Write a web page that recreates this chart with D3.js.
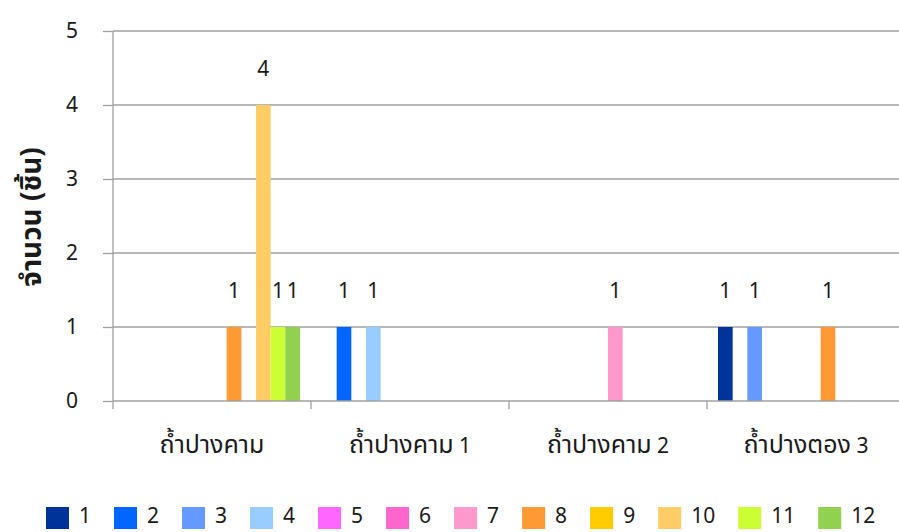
<!DOCTYPE html>
<html><head><meta charset="utf-8">
<script src="https://cdn.jsdelivr.net/npm/d3@7"></script>
<style>
html,body{margin:0;padding:0;background:#fff;}
svg text{font-family:Tahoma,"Noto Sans Thai","Noto Sans","Noto Sans CJK SC",sans-serif;fill:#1a1a1a;}
</style></head>
<body>
<svg id="c" width="899" height="532"></svg>
<script>
const categories = ["ถ้ำปางคาม", "ถ้ำปางคาม 1", "ถ้ำปางคาม 2", "ถ้ำปางตอง 3"];
const seriesNames = ["1","2","3","4","5","6","7","8","9","10","11","12"];
const seriesColors = ["#003399","#0066FF","#6699FF","#99CCFF","#FF66FF","#FF66CC","#FF99CC","#FF9933","#FFCC00","#FFCC66","#CCFF33","#92D050"];
const s1  = [0,0,0,1];
const s2  = [0,1,0,0];
const s3  = [0,0,0,1];
const s4  = [0,1,0,0];
const s5  = [0,0,0,0];
const s6  = [0,0,0,0];
const s7  = [0,0,1,0];
const s8  = [1,0,0,1];
const s9  = [0,0,0,0];
const s10 = [4,0,0,0];
const s11 = [1,0,0,0];
const s12 = [1,0,0,0];
const seriesValues = [s1,s2,s3,s4,s5,s6,s7,s8,s9,s10,s11,s12];
const yTicks = [0,1,2,3,4,5];
const yTitle = "จำนวน (ชิ้น)";

(function(){
const svg = d3.select("#c");
const pLeft = 113, pRight = 905, pTop = 31, pBottom = 401;
const numSize = 21, thaiSize = 25;
const numFont = "'Noto Sans',sans-serif";

const x = d3.scaleBand().domain(categories).range([pLeft, pRight]).paddingInner(0).paddingOuter(0);
const y = d3.scaleLinear().domain([0,5]).range([pBottom, pTop]);

// gridlines
svg.append("g").selectAll("line").data(yTicks.filter(d=>d>0)).join("line")
  .attr("x1", pLeft).attr("x2", pRight)
  .attr("y1", d=>y(d)).attr("y2", d=>y(d))
  .attr("stroke", "#a0a0a0").attr("stroke-width", 1.3);

// bars
const inner = 11;
const xs = d3.scaleBand().domain(seriesNames).range([inner, x.bandwidth()-inner]);
const bars = [];
seriesValues.forEach((vals, si) => {
  vals.forEach((v, ci) => {
    if (v > 0) bars.push({si, ci, v});
  });
});
svg.append("g").selectAll("rect").data(bars).join("rect")
  .attr("x", d => x(categories[d.ci]) + xs(seriesNames[d.si]))
  .attr("width", xs.bandwidth())
  .attr("y", d => y(d.v))
  .attr("height", d => y(0) - y(d.v))
  .attr("fill", d => seriesColors[d.si]);

svg.append("g").selectAll("text").data(bars).join("text")
  .attr("x", d => x(categories[d.ci]) + xs(seriesNames[d.si]) + xs.bandwidth()/2)
  .attr("y", d => y(d.v) - 29)
  .attr("text-anchor","middle")
  .attr("font-size", numSize)
  .style("font-family", numFont)
  .text(d => d.v);

// y axis
const yAxis = d3.axisLeft(y).tickValues(yTicks).tickSize(10).tickPadding(25).tickFormat(d3.format("d"));
const gy = svg.append("g").attr("transform", `translate(${pLeft},0)`).call(yAxis);
gy.select(".domain").remove();
gy.selectAll(".tick line").attr("stroke","#a0a0a0").attr("stroke-width",1.3);
gy.selectAll(".tick text").attr("font-size",numSize).style("font-family",numFont).attr("fill","#1a1a1a");
svg.append("line").attr("x1",pLeft).attr("x2",pLeft).attr("y1",pTop).attr("y2",pBottom+8)
  .attr("stroke","#a0a0a0").attr("stroke-width",1.3);

// x axis
svg.append("line").attr("x1",pLeft).attr("x2",pRight).attr("y1",pBottom).attr("y2",pBottom)
  .attr("stroke","#a0a0a0").attr("stroke-width",1.3);
svg.append("g").selectAll("line").data(categories.slice(1)).join("line")
  .attr("x1", d=>x(d)).attr("x2", d=>x(d)).attr("y1", pBottom).attr("y2", pBottom+8)
  .attr("stroke","#a0a0a0").attr("stroke-width",1.3);
const xl = svg.append("g").selectAll("text").data(categories).join("text")
  .attr("x", d => x(d) + x.bandwidth()/2)
  .attr("y", 453)
  .attr("text-anchor","middle");
xl.each(function(d){
  const parts = d.split(" ");
  const t = d3.select(this);
  t.append("tspan").attr("font-size", thaiSize).text(parts[0]);
  if (parts.length > 1) t.append("tspan").attr("font-size", numSize).style("font-family", numFont).text(" " + parts.slice(1).join(" "));
});

// y title
svg.append("text")
  .attr("transform", `translate(41,217) rotate(-90)`)
  .attr("text-anchor","middle")
  .attr("font-size",28).attr("font-weight","bold")
  .text(yTitle);

// legend
const lg = svg.append("g");
let lx = 46;
seriesNames.forEach((n, i) => {
  lg.append("rect").attr("x", lx).attr("y", 507).attr("width", 23).attr("height", 22).attr("fill", seriesColors[i]);
  const t = lg.append("text").attr("x", lx + 33).attr("y", 523).attr("font-size",numSize).style("font-family", numFont).text(n);
  const w = t.node().getComputedTextLength();
  lx += 23 + 10 + w + 23;
});
})();
</script>
</body></html>
